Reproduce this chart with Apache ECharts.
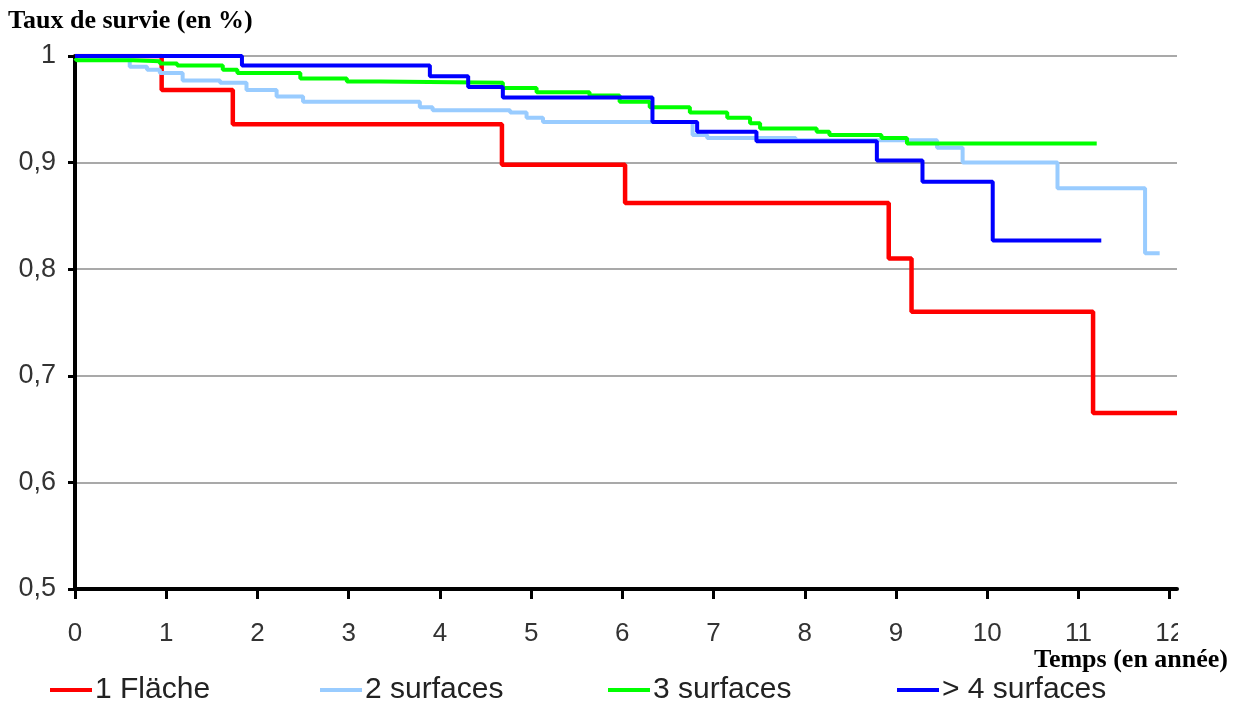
<!DOCTYPE html>
<html>
<head>
<meta charset="utf-8">
<script src="https://cdn.jsdelivr.net/npm/echarts@6/dist/echarts.min.js"></script>
<style>
html,body{margin:0;padding:0;background:#fff;}
#chart{width:1247px;height:707px;}
</style>
</head>
<body>
<div id="chart"></div>
<script>
// ---- data ----
const seriesNames = ['1 Fläche', '2 surfaces', '3 surfaces', '> 4 surfaces'];
const xTickLabels = [0,1,2,3,4,5,6,7,8,9,10,11,12];
const yTickLabels = ['0,5','0,6','0,7','0,8','0,9','1'];

const redTimes = [0, 0.95, 1.73, 4.68, 6.03, 8.92, 9.17, 11.16, 12.08];
const redSurv  = [1, 0.968, 0.936, 0.898, 0.862, 0.810, 0.760, 0.665, 0.665];

const lightBlueTimes = [0, 0.60, 0.79, 0.93, 1.18, 1.59, 1.88, 2.21, 2.50, 3.78, 3.92, 4.77, 4.95, 5.13, 6.77, 6.93, 7.90, 9.45, 9.73, 10.77, 11.73, 11.89];
const lightBlueSurv  = [0.998, 0.990, 0.987, 0.984, 0.977, 0.975, 0.968, 0.962, 0.957, 0.952, 0.949, 0.947, 0.942, 0.938, 0.926, 0.923, 0.921, 0.914, 0.900, 0.876, 0.815, 0.815];

const greenTimes = [0, 0.02, 0.64, 0.93, 1.12, 1.62, 1.78, 2.47, 2.98, 3.34, 4.69, 5.06, 5.64, 5.97, 6.30, 6.74, 7.15, 7.40, 7.51, 8.13, 8.27, 8.84, 9.12, 11.20];
const greenSurv  = [0.998, 0.996, 0.995, 0.993, 0.991, 0.987, 0.984, 0.979, 0.976, 0.975, 0.970, 0.966, 0.963, 0.957, 0.952, 0.947, 0.942, 0.937, 0.932, 0.929, 0.926, 0.923, 0.918, 0.918];

const blueTimes = [0, 1.83, 3.89, 4.31, 4.69, 6.33, 6.82, 7.47, 8.79, 9.29, 10.06, 11.25];
const blueSurv  = [1, 0.991, 0.981, 0.971, 0.961, 0.938, 0.929, 0.920, 0.902, 0.882, 0.827, 0.827];

function zip(t, s) { return t.map((v, i) => [v, s[i]]); }

const colors = ['#ff0000', '#99ccff', '#00ff00', '#0000ff'];
const datasets = [zip(redTimes, redSurv), zip(lightBlueTimes, lightBlueSurv), zip(greenTimes, greenSurv), zip(blueTimes, blueSurv)];
const legendLefts = [50, 320, 608, 897];

const chart = echarts.init(document.getElementById('chart'), null, {renderer: 'canvas'});

const legends = seriesNames.map((n, i) => ({
  data: [n],
  left: legendLefts[i],
  top: 675,
  padding: 0,
  icon: 'rect',
  itemWidth: 42,
  itemHeight: 4,
  selectedMode: false,
  textStyle: {fontFamily: 'Liberation Sans', fontSize: 30, color: '#222', padding: [0,0,0,-2]}
}));

chart.setOption({
  animation: false,
  backgroundColor: '#fff',
  title: [
    {text: 'Taux de survie (en %)', left: 8, top: 8, padding: 0,
     textStyle: {fontFamily: 'Liberation Serif', fontWeight: 'bold', fontSize: 26, color: '#000'}},
    {text: 'Temps (en année)', right: 19, top: 647, padding: 0,
     textStyle: {fontFamily: 'Liberation Serif', fontWeight: 'bold', fontSize: 26, color: '#000'}}
  ],
  legend: legends,
  grid: {left: 75, top: 56, right: 70, bottom: 118, containLabel: false, outerBoundsMode: 'none'},
  xAxis: {
    type: 'value', min: 0, max: 12.08,
    axisLine: {show: true, lineStyle: {color: '#000', width: 4}},
    axisTick: {show: true, length: 10, lineStyle: {color: '#000', width: 3}, customValues: xTickLabels},
    axisLabel: {customValues: xTickLabels, margin: 32, fontFamily: 'Liberation Sans', fontSize: 26, color: '#333'},
    splitLine: {show: false}
  },
  yAxis: {
    type: 'value', min: 0.5, max: 1, interval: 0.1,
    axisLine: {show: true, lineStyle: {color: '#000', width: 4}},
    axisTick: {show: true, length: 7, lineStyle: {color: '#000', width: 3}},
    axisLabel: {margin: 19, fontFamily: 'Liberation Sans', fontSize: 27, color: '#333',
      formatter: v => yTickLabels[Math.round((v - 0.5) * 10)] },
    splitLine: {show: true, lineStyle: {color: '#8c8c8c', width: 1.5}}
  },
  series: datasets.map((d, i) => ({
    type: 'line',
    name: seriesNames[i],
    data: d,
    step: 'end',
    showSymbol: false,
    symbol: 'none',
    z: 2 + i,
    lineStyle: {color: colors[i], width: i === 0 ? 4.5 : 4},
    itemStyle: {color: colors[i]}
  })),
  graphic: [{type: 'rect', left: 1178, top: 612, shape: {width: 69, height: 34}, style: {fill: '#fff'}, z: 100}]
});
</script>
</body>
</html>
